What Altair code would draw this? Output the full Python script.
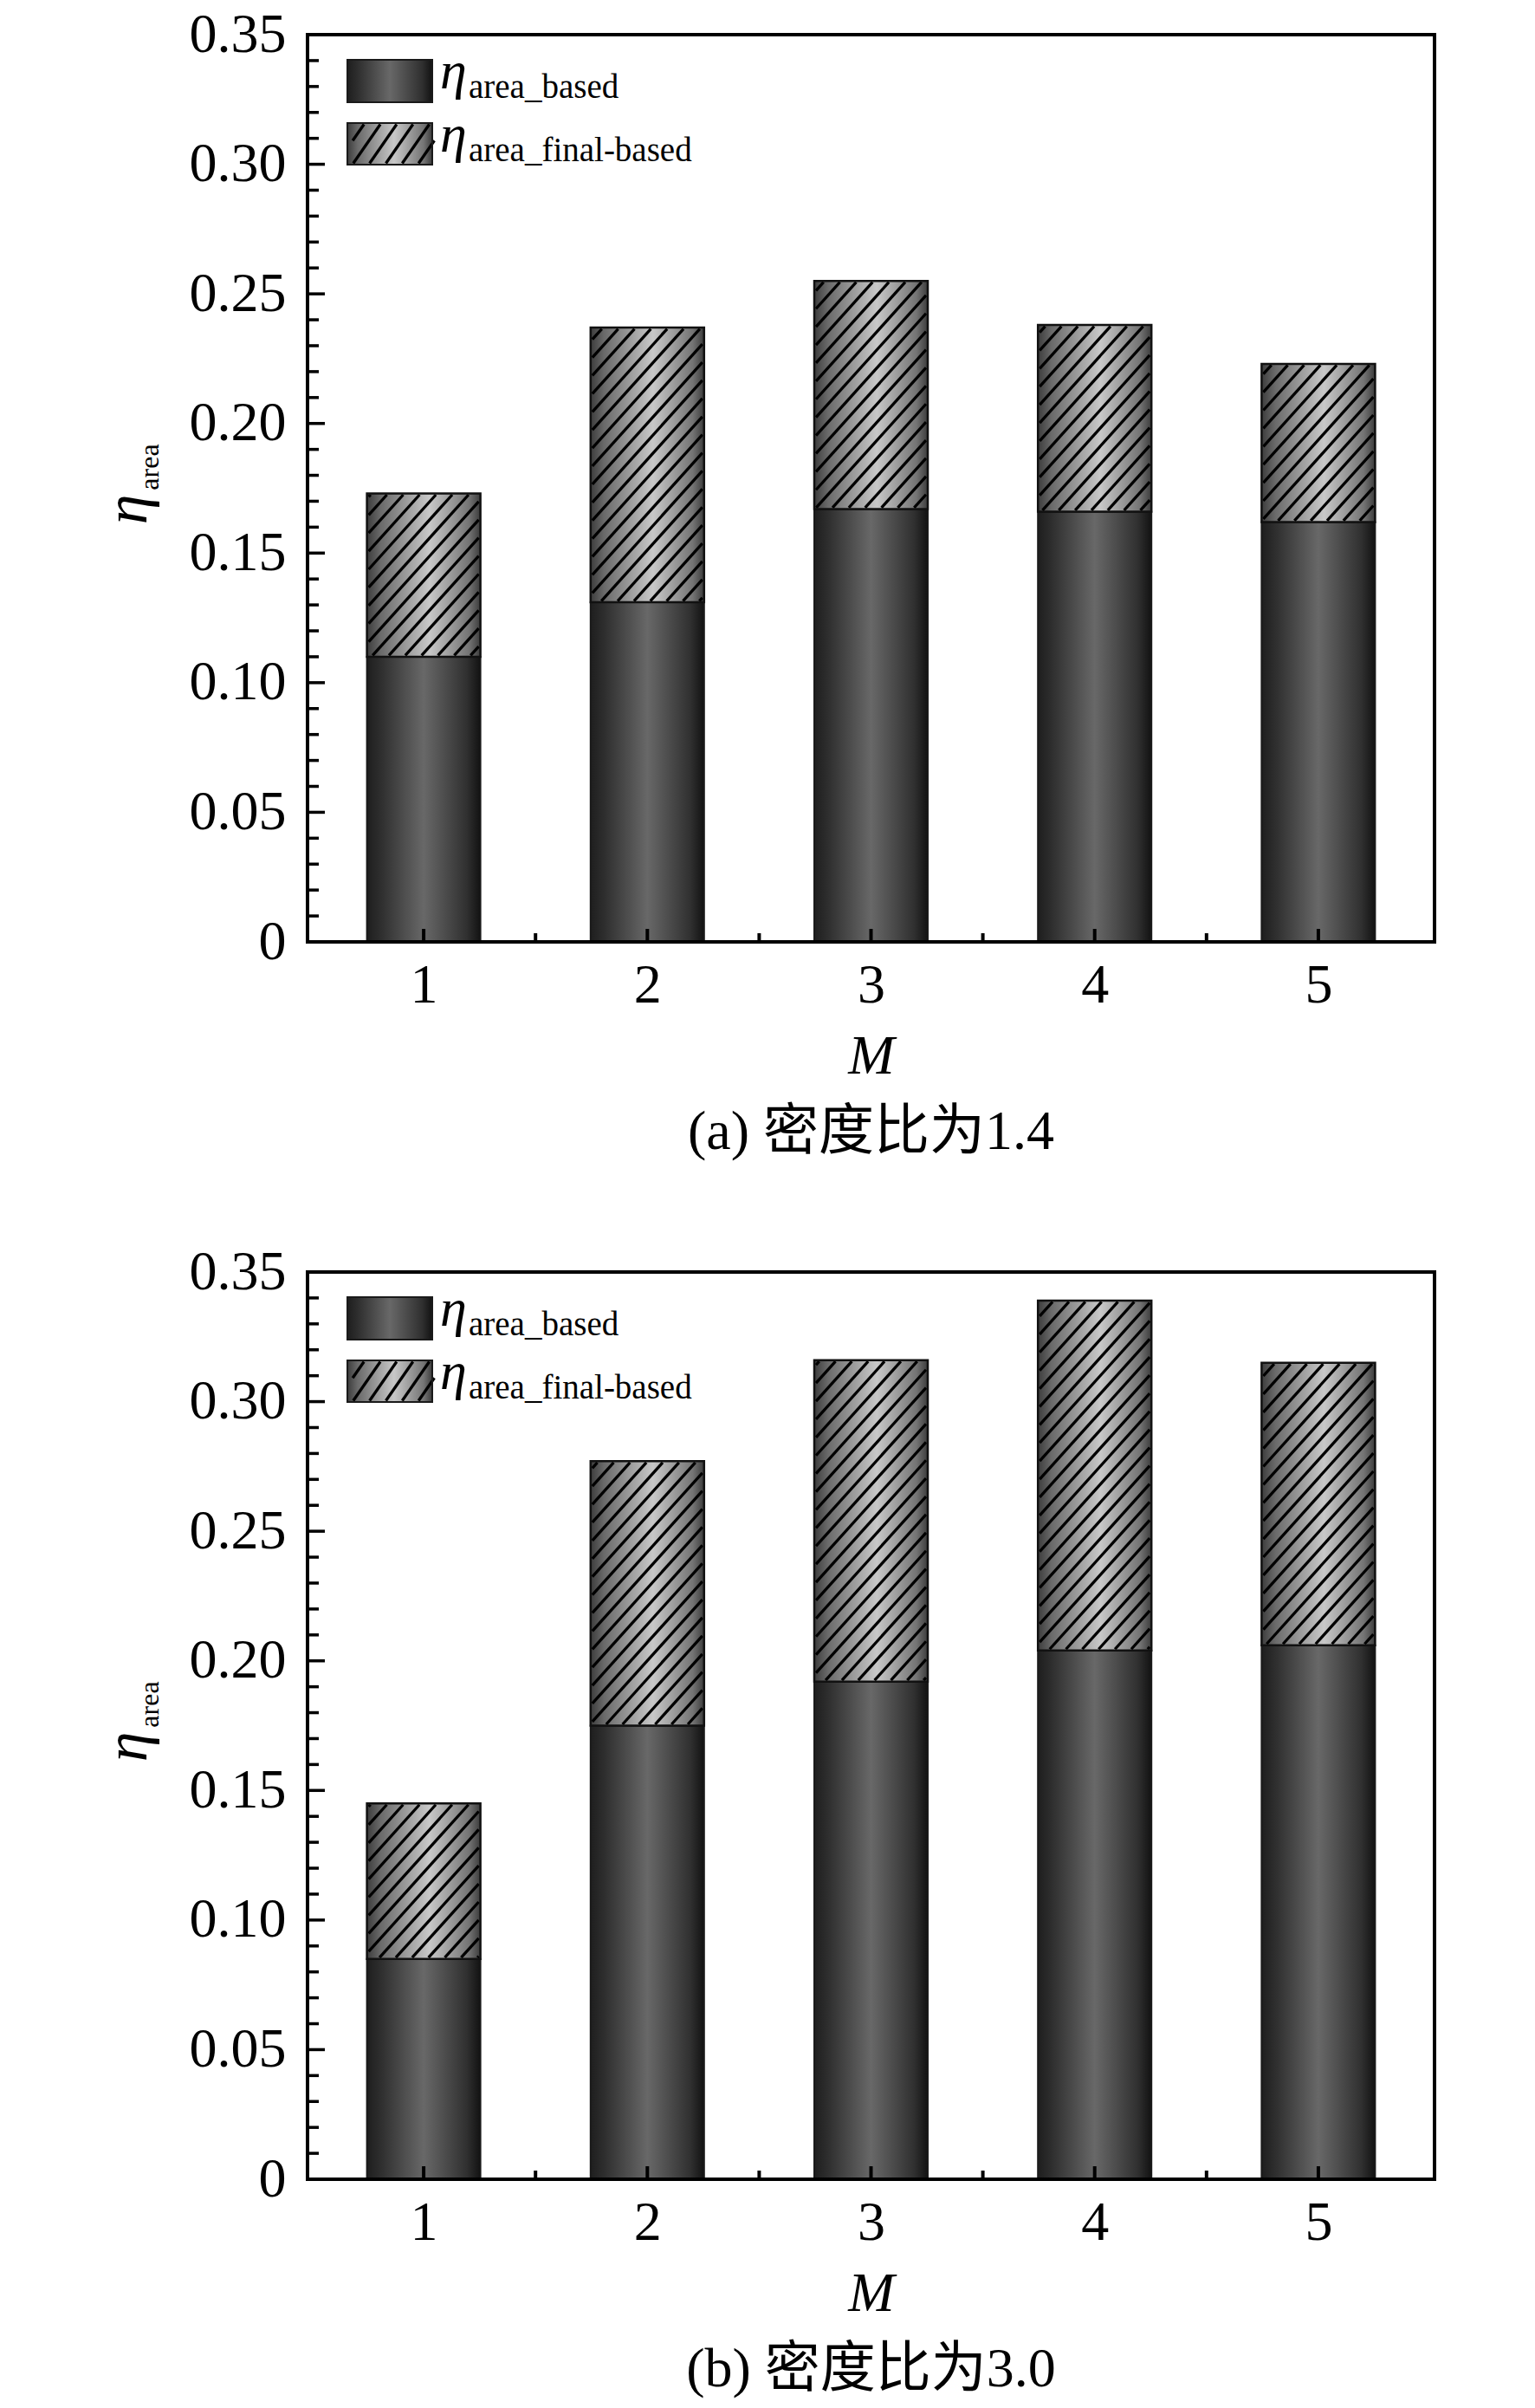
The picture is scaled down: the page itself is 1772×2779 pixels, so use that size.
import numpy as np
import pandas as pd
import altair as alt

# ---------------- data ----------------
M_VALUES = [1, 2, 3, 4, 5]
A_BASED = [0.110, 0.131, 0.167, 0.166, 0.162]
A_FINAL = [0.173, 0.237, 0.255, 0.238, 0.223]
B_BASED = [0.085, 0.175, 0.192, 0.204, 0.206]
B_FINAL = [0.145, 0.277, 0.316, 0.339, 0.315]
CAPTIONS = ["(a) 密度比为1.4", "(b) 密度比为3.0"]
Y_TICKS = [0, 0.05, 0.10, 0.15, 0.20, 0.25, 0.30, 0.35]
Y_MINOR = [round(0.01 * i, 2) for i in range(1, 35) if i % 5]
X_MINOR = [1.5, 2.5, 3.5, 4.5]
ETA = "η"
LEGEND_SUBS = ["area_based", "area_final-based"]
Y_TITLE_SUB = "area"
X_TITLE = "M"

# ---------------- layout / style ----------------
W, H = 1301, 1047
X_DOMAIN = [0.5, 5.5]
Y_DOMAIN = [0.0, 0.35]
BAR_PX = 131
SERIF = "Liberation Serif"
CJK = "Liberation Serif, Noto Sans CJK SC"
FS = 64

GRAD_DARK = alt.LinearGradient(
    gradient="linear", x1=0, y1=0, x2=1, y2=0,
    stops=[alt.GradientStop(offset=0, color="#1e1e1e"),
           alt.GradientStop(offset=0.12, color="#2e2e2e"),
           alt.GradientStop(offset=0.5, color="#686868"),
           alt.GradientStop(offset=0.88, color="#303030"),
           alt.GradientStop(offset=1, color="#121212")])
GRAD_LIGHT = alt.LinearGradient(
    gradient="linear", x1=0, y1=0, x2=1, y2=0,
    stops=[alt.GradientStop(offset=0, color="#3c3c3c"),
           alt.GradientStop(offset=0.12, color="#6a6a6a"),
           alt.GradientStop(offset=0.55, color="#c8c8c8"),
           alt.GradientStop(offset=0.9, color="#747474"),
           alt.GradientStop(offset=1, color="#3c3c3c")])

XS = alt.Scale(domain=X_DOMAIN, nice=False, zero=False)
YS = alt.Scale(domain=Y_DOMAIN, nice=False, zero=True)
XAXIS = alt.Axis(values=M_VALUES, format="d", title=X_TITLE, grid=False,
                 domain=False, ticks=False, tickSize=0, labelFont=SERIF,
                 labelFontSize=FS, labelColor="black", labelPadding=18,
                 titleFont=SERIF, titleFontSize=FS, titleFontStyle="italic",
                 titleFontWeight="normal", titleColor="black", titlePadding=18)
YAXIS = alt.Axis(values=Y_TICKS, title=None, grid=False, domain=False,
                 ticks=False, tickSize=0, labelFont=SERIF, labelFontSize=FS,
                 labelColor="black", labelPadding=25,
                 labelExpr="datum.value == 0 ? '0' : format(datum.value, '.2f')")


def X(field):
    return alt.X(field, type="quantitative", scale=XS, axis=XAXIS)


def Y(field):
    return alt.Y(field, type="quantitative", scale=YS, axis=YAXIS)


def to_dx(p):
    return X_DOMAIN[0] + p / W * (X_DOMAIN[1] - X_DOMAIN[0])


def to_dy(p):
    return Y_DOMAIN[0] + (1 - p / H) * (Y_DOMAIN[1] - Y_DOMAIN[0])


def to_px(v):
    return (v - X_DOMAIN[0]) / (X_DOMAIN[1] - X_DOMAIN[0]) * W


def to_py(v):
    return (1 - (v - Y_DOMAIN[0]) / (Y_DOMAIN[1] - Y_DOMAIN[0])) * H


def hatch(x0, x1, y0, y1, tan_a, step):
    """Diagonal hatch lines clipped to a pixel rectangle, returned in data units."""
    rows = []
    d = step * tan_a
    k0 = int(np.floor((y0 + tan_a * x0) / d))
    k1 = int(np.ceil((y1 + tan_a * x1) / d))
    for k in range(k0, k1 + 1):
        c = k * d
        xa = max(x0, (c - y1) / tan_a)
        xb = min(x1, (c - y0) / tan_a)
        if xb - xa > 0.8:
            rows.append(dict(hx=to_dx(xa), hy=to_dy(c - tan_a * xa),
                             hx2=to_dx(xb), hy2=to_dy(c - tan_a * xb)))
    return rows


ONE = pd.DataFrame({"k": [0]})


def panel(based, final, caption):
    df = pd.DataFrame({"M": M_VALUES, "zero": [0.0] * 5,
                       "based": based, "final": final})
    hrows = []
    for m, b, f in zip(M_VALUES, based, final):
        xc = to_px(m)
        hrows += hatch(xc - BAR_PX / 2 + 1.5, xc + BAR_PX / 2 - 1.5,
                       to_py(f) + 1.5, to_py(b) - 1.5, 1.1, 19)
    hdf = pd.DataFrame(hrows)

    base = alt.Chart(df).mark_bar(orient="vertical", size=BAR_PX, fill=GRAD_DARK,
                                  stroke="#1a1a1a", strokeWidth=2).encode(
        x=X("M"), y=Y("zero"), y2="based")
    top = alt.Chart(df).mark_bar(orient="vertical", size=BAR_PX, fill=GRAD_LIGHT).encode(
        x=X("M"), y=Y("based"), y2="final")
    lines = alt.Chart(hdf).mark_rule(color="black", strokeWidth=3.3).encode(
        x=X("hx"), y=Y("hy"), x2="hx2", y2="hy2")
    outline = alt.Chart(df).mark_bar(orient="vertical", size=BAR_PX, fill="white",
                                     fillOpacity=0, stroke="#111111",
                                     strokeWidth=2.5).encode(
        x=X("M"), y=Y("based"), y2="final")

    ymaj = alt.Chart(pd.DataFrame({"v": Y_TICKS})).mark_rule(
        color="black", strokeWidth=3.5).encode(
        y=Y("v"), x=alt.value(0), x2=alt.value(20))
    ymin = alt.Chart(pd.DataFrame({"v": Y_MINOR})).mark_rule(
        color="black", strokeWidth=3.5).encode(
        y=Y("v"), x=alt.value(0), x2=alt.value(13))
    xmaj = alt.Chart(pd.DataFrame({"v": M_VALUES})).mark_rule(
        color="black", strokeWidth=4).encode(
        x=X("v"), y=alt.value(H), y2=alt.value(H - 15))
    xmin = alt.Chart(pd.DataFrame({"v": X_MINOR})).mark_rule(
        color="black", strokeWidth=4).encode(
        x=X("v"), y=alt.value(H), y2=alt.value(H - 10))

    frame = [
        alt.Chart(ONE).mark_rule(color="black", strokeWidth=4, strokeCap="square").encode(
            x=alt.value(0), x2=alt.value(W), y=alt.value(H)),
        alt.Chart(ONE).mark_rule(color="black", strokeWidth=4, strokeCap="square").encode(
            x=alt.value(0), x2=alt.value(W), y=alt.value(0)),
        alt.Chart(ONE).mark_rule(color="black", strokeWidth=4, strokeCap="square").encode(
            x=alt.value(0), y=alt.value(0), y2=alt.value(H)),
        alt.Chart(ONE).mark_rule(color="black", strokeWidth=4, strokeCap="square").encode(
            x=alt.value(W), y=alt.value(0), y2=alt.value(H)),
    ]

    # legend (drawn by hand: gradient + hatch swatches, subscripted labels)
    leg = []
    rows = [(29, 78), (102, 150)]
    for i, (t, b) in enumerate(rows):
        leg.append(alt.Chart(ONE).mark_rect(fill=GRAD_DARK if i == 0 else GRAD_LIGHT).encode(
            x=alt.value(46), x2=alt.value(144), y=alt.value(t), y2=alt.value(b)))
        if i == 1:
            ldf = pd.DataFrame(hatch(47.5, 142.5, t + 1.5, b - 1.5, 1.43, 19))
            leg.append(alt.Chart(ldf).mark_rule(color="black", strokeWidth=3.3).encode(
                x=X("hx"), y=Y("hy"), x2="hx2", y2="hy2"))
        leg.append(alt.Chart(ONE).mark_rect(fill="white", fillOpacity=0,
                                            stroke="#1a1a1a", strokeWidth=2).encode(
            x=alt.value(46), x2=alt.value(144), y=alt.value(t), y2=alt.value(b)))
        leg.append(alt.Chart(ONE).mark_text(
            text=ETA, font=SERIF, fontStyle="italic", fontSize=62, align="left",
            baseline="alphabetic", color="black").encode(
            x=alt.value(153), y=alt.value(62 + 73 * i)))
        leg.append(alt.Chart(ONE).mark_text(
            text=LEGEND_SUBS[i], font=SERIF, fontSize=39, align="left",
            baseline="alphabetic", color="black").encode(
            x=alt.value(186), y=alt.value(73 + 73 * i)))

    ytitle = [
        alt.Chart(ONE).mark_text(text=ETA, font=SERIF, fontStyle="italic", fontSize=70,
                                 angle=270, align="center", baseline="alphabetic",
                                 color="black").encode(
            x=alt.value(-186), y=alt.value(548)),
        alt.Chart(ONE).mark_text(text=Y_TITLE_SUB, font=SERIF, fontSize=32,
                                 angle=270, align="center", baseline="alphabetic",
                                 color="black").encode(
            x=alt.value(-172), y=alt.value(499)),
    ]

    layers = [base, top, lines, outline, ymaj, ymin, xmaj, xmin] + frame + leg + ytitle
    return alt.layer(*layers).properties(
        width=W, height=H,
        title=alt.TitleParams(text=caption, orient="bottom", anchor="middle",
                              frame="group", font=CJK, fontSize=FS,
                              fontWeight="normal", color="black", offset=24))


chart = alt.vconcat(
    panel(A_BASED, A_FINAL, CAPTIONS[0]),
    panel(B_BASED, B_FINAL, CAPTIONS[1]),
    spacing=97,
).configure_view(strokeWidth=0).properties(
    padding={"left": 105, "top": 0, "right": 10, "bottom": 5},
    background="white")

chart.save("out.html", embed_options={"renderer": "svg", "actions": False})
